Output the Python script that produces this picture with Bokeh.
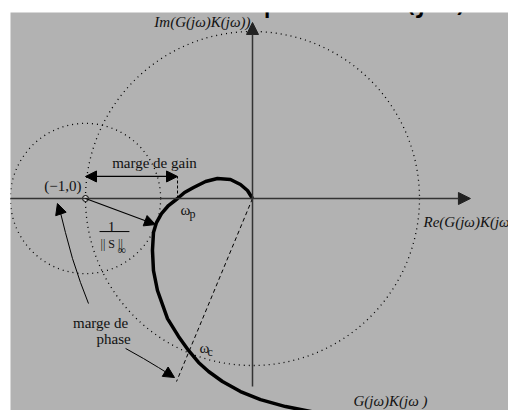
from bokeh.plotting import figure
from bokeh.models import Label, Arrow, NormalHead
from bokeh.embed import file_html
from bokeh.resources import INLINE

# ---- data (Nyquist plane units) ----
curve_re = [0.000, -0.030, -0.072, -0.132, -0.210, -0.281, -0.353, -0.407, -0.449,
            -0.503, -0.545, -0.575, -0.593, -0.599, -0.593, -0.569, -0.509, -0.443,
            -0.383, -0.323, -0.263, -0.180, -0.072, 0.048, 0.198, 0.377]
curve_im = [0.000, 0.048, 0.084, 0.114, 0.120, 0.102, 0.066, 0.036, 0.000,
            -0.042, -0.090, -0.144, -0.204, -0.311, -0.431, -0.551, -0.719, -0.826,
            -0.910, -0.982, -1.036, -1.096, -1.156, -1.204, -1.246, -1.281]
circle_x = [0.0, -1.0]
circle_y = [0.0, 0.0]
circle_r = [1.0, 0.45]
crit_re, crit_im = -1.0, 0.0
gain_cross_re = -0.449
closest_re, closest_im = -0.581, -0.156
phase_line_end = (-0.455, -1.096)
gain_arrow_im = 0.132
arc1_x = [-0.982, -1.030, -1.078, -1.120, -1.150, -1.168]
arc1_y = [-0.629, -0.503, -0.359, -0.204, -0.084, -0.030]
arc2_x = [-0.760, -0.653, -0.563, -0.467]
arc2_y = [-0.898, -0.958, -1.012, -1.072]
re_axis = (-1.50, 1.305)
im_axis = (-1.126, 1.054)

GRAY = "#b2b2b2"
SERIF = "Liberation Serif"

W, H = 508, 410
L, T = 10, 12
FW, FH = W - L, H - T
OX, OY, U = 242, 186, 167.0

p = figure(width=W, height=H, x_range=(-OX / U, (FW - OX) / U), y_range=(-(FH - OY) / U, OY / U),
           min_border_left=L, min_border_top=T, min_border_right=0, min_border_bottom=0,
           x_axis_location=None, y_axis_location=None,
           output_backend="svg", toolbar_location=None)
p.background_fill_color = GRAY
p.background_fill_alpha = 1.0
p.border_fill_color = "white"
p.grid.visible = False
p.outline_line_color = None

# dotted circles
p.circle(x=circle_x, y=circle_y, radius=circle_r, fill_color=None, line_color="black",
         line_dash="1 4", line_width=1.3)

# axes
p.add_layout(Arrow(end=NormalHead(size=12, fill_color="#222", line_color="#222"),
                   x_start=re_axis[0], y_start=0, x_end=re_axis[1], y_end=0,
                   line_color="#333", line_width=1.5))
p.add_layout(Arrow(end=NormalHead(size=12, fill_color="#222", line_color="#222"),
                   x_start=0, y_start=im_axis[0], x_end=0, y_end=im_axis[1],
                   line_color="#333", line_width=1.5))

# dashed phase line
p.line([0, phase_line_end[0]], [0, phase_line_end[1]], line_color="black",
       line_dash="4 3", line_width=1)
# dashed gain marker
p.line([gain_cross_re, gain_cross_re], [0, gain_arrow_im], line_color="black",
       line_dash="3 2", line_width=1)

# Nyquist curve
p.line(curve_re, curve_im, line_color="black", line_width=3.5, line_join="round")

# gain margin double arrow
p.add_layout(Arrow(start=NormalHead(size=11, fill_color="black", line_color="black"),
                   end=NormalHead(size=11, fill_color="black", line_color="black"),
                   x_start=crit_re, y_start=gain_arrow_im, x_end=gain_cross_re, y_end=gain_arrow_im,
                   line_color="black", line_width=1.2))

# 1/||S|| radius arrow
p.add_layout(Arrow(end=NormalHead(size=11, fill_color="black", line_color="black"),
                   x_start=crit_re, y_start=crit_im, x_end=closest_re, y_end=closest_im,
                   line_color="black", line_width=1.2))

# phase margin arrows
p.line(arc1_x[:-1], arc1_y[:-1], line_color="black", line_width=1)
p.add_layout(Arrow(end=NormalHead(size=11, fill_color="black", line_color="black"),
                   x_start=arc1_x[-2], y_start=arc1_y[-2], x_end=arc1_x[-1], y_end=arc1_y[-1],
                   line_color="black", line_width=1))
p.line(arc2_x[:-1], arc2_y[:-1], line_color="black", line_width=1)
p.add_layout(Arrow(end=NormalHead(size=11, fill_color="black", line_color="black"),
                   x_start=arc2_x[-2], y_start=arc2_y[-2], x_end=arc2_x[-1], y_end=arc2_y[-1],
                   line_color="black", line_width=1))

# critical point
p.scatter([crit_re], [crit_im], size=6, fill_color="#dddddd", line_color="black", line_width=1)

# fraction bar
p.line([-0.916, -0.737], [-0.198, -0.198], line_color="black", line_width=1)


def lab(x, y, text, size=15, align="left", style="normal", color="#111111", font=SERIF):
    p.add_layout(Label(x=x, y=y, text=text, text_font=font, text_font_size=f"{size}px",
                       text_align=align, text_baseline="alphabetic", text_font_style=style,
                       text_color=color))


lab(-0.012, 1.054, "Im(G(jω)K(jω))", 15, "right", "italic")
lab(1.024, -0.138, "Re(G(jω)K(jω))", 15, "left", "italic")
lab(0.605, -1.21, "G(jω)K(jω )", 15, "left", "italic")
lab(-0.587, 0.21, "marge de gain", 15, "center")
lab(-1.024, 0.072, "(−1,0)", 15, "right")
lab(-0.844, -0.168, "1", 15, "center")
lab(-0.910, -0.275, "|| S ||", 12, "left")
lab(-0.808, -0.311, "∞", 12, "left")
lab(-0.431, -0.066, "ω", 15, "left")
lab(-0.377, -0.090, "p", 12, "left")
lab(-0.317, -0.898, "ω", 15, "left")
lab(-0.269, -0.922, "c", 12, "left")
lab(-0.910, -0.743, "marge de", 15, "center")
lab(-0.832, -0.844, "phase", 15, "center")

# cut-off heading text above the picture
lab(0.060, 1.192, "p", 34, "left", "normal", "black", "DejaVu Sans")
lab(0.904, 1.192, "(jω)", 34, "left", "normal", "black", "DejaVu Sans")

open("out.html", "w").write(file_html(p, INLINE))
